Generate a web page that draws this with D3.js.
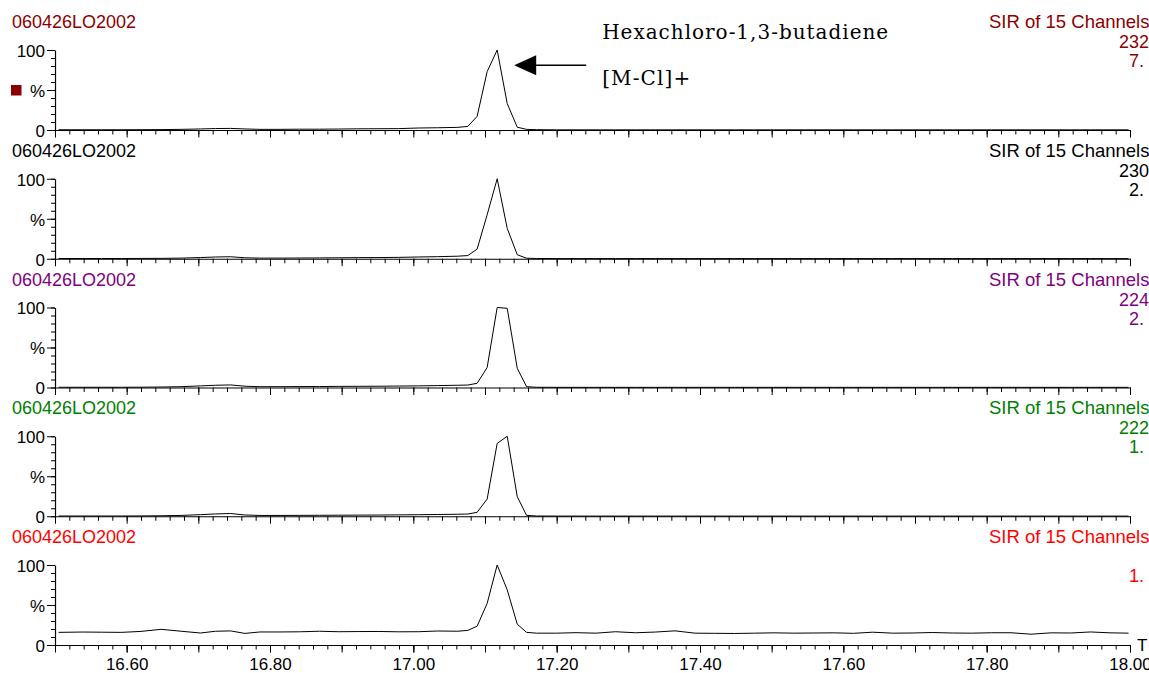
<!DOCTYPE html>
<html>
<head>
<meta charset="utf-8">
<script src="https://cdn.jsdelivr.net/npm/d3@7"></script>
<style>
  html, body { margin: 0; padding: 0; background: #fff; overflow: hidden; }
  svg { display: block; font-family: "Liberation Sans", Arial, sans-serif; }
</style>
</head>
<body>
<div id="chart"></div>
<script>
// retention times (min) of the plotted scans
const times = [
  16.505, 16.538, 16.565, 16.593, 16.620, 16.648, 16.676, 16.703, 16.724, 16.745,
  16.765, 16.786, 16.814, 16.841, 16.869, 16.896, 16.924, 16.952, 16.979, 17.007,
  17.034, 17.062, 17.076, 17.089, 17.103, 17.117, 17.131, 17.145, 17.158, 17.172,
  17.200, 17.227, 17.255, 17.282, 17.310, 17.338, 17.365, 17.393, 17.420, 17.448,
  17.476, 17.503, 17.531, 17.558, 17.586, 17.614, 17.641, 17.669, 17.696, 17.724,
  17.752, 17.779, 17.807, 17.834, 17.862, 17.890, 17.917, 17.945, 17.972, 17.998
];

// relative intensity (%) per channel
const trace232 = [
  0.3, 0.3, 0.3, 0.3, 0.4, 0.5, 0.8, 1.3, 1.8, 2.0,
  1.3, 0.8, 0.8, 1.0, 1.0, 1.2, 1.5, 1.6, 1.7, 2.5,
  2.8, 3.3, 4.5, 17, 73, 100, 33, 3.5, 0.8, 0.4,
  0.2, 0.2, 0.2, 0.2, 0.2, 0.2, 0.2, 0.2, 0.2, 0.2,
  0.2, 0.2, 0.2, 0.2, 0.2, 0.2, 0.2, 0.2, 0.2, 0.2,
  0.2, 0.2, 0.2, 0.2, 0.2, 0.2, 0.2, 0.2, 0.2, 0.2
];
const trace230 = [
  0.3, 0.3, 0.3, 0.3, 0.4, 0.5, 0.8, 1.5, 2.2, 2.5,
  1.2, 0.8, 0.8, 0.9, 1.0, 1.2, 1.4, 1.5, 1.7, 2.2,
  2.6, 3.2, 4.0, 12, 55, 100, 38, 5, 0.7, 0.3,
  0.2, 0.2, 0.2, 0.2, 0.2, 0.2, 0.2, 0.2, 0.2, 0.2,
  0.2, 0.2, 0.2, 0.2, 0.2, 0.2, 0.2, 0.2, 0.2, 0.2,
  0.2, 0.2, 0.2, 0.2, 0.2, 0.2, 0.2, 0.2, 0.2, 0.2
];
const trace224 = [
  0.3, 0.3, 0.3, 0.3, 0.4, 0.6, 1.0, 2.0, 2.8, 3.2,
  1.6, 1.0, 1.0, 1.2, 1.2, 1.4, 1.5, 1.6, 1.8, 2.0,
  2.4, 2.8, 3.1, 5.2, 25, 100, 99, 24, 1.0, 0.3,
  0.2, 0.2, 0.2, 0.2, 0.2, 0.2, 0.2, 0.2, 0.2, 0.2,
  0.2, 0.2, 0.2, 0.2, 0.2, 0.2, 0.2, 0.2, 0.2, 0.2,
  0.2, 0.2, 0.2, 0.2, 0.2, 0.2, 0.2, 0.2, 0.2, 0.2
];
const trace222 = [
  0.3, 0.3, 0.3, 0.3, 0.4, 0.6, 1.0, 2.0, 2.9, 3.4,
  1.6, 1.0, 1.0, 1.1, 1.2, 1.3, 1.4, 1.5, 1.7, 1.9,
  2.2, 2.5, 2.8, 4.9, 21.5, 91, 100, 24.5, 1.1, 0.3,
  0.2, 0.2, 0.2, 0.2, 0.2, 0.2, 0.2, 0.2, 0.2, 0.2,
  0.2, 0.2, 0.2, 0.2, 0.2, 0.2, 0.2, 0.2, 0.2, 0.2,
  0.2, 0.2, 0.2, 0.2, 0.2, 0.2, 0.2, 0.2, 0.2, 0.2
];
const traceTic = [
  15.8, 16.2, 16.0, 15.8, 17.0, 19.6, 17.2, 15.0, 17.2, 17.6,
  14.5, 16.3, 16.3, 16.5, 17.2, 16.6, 16.8, 16.9, 16.5, 16.6,
  17.5, 17.2, 18.3, 23.5, 52, 100, 69, 26, 15.8, 14.8,
  14.8, 15.4, 14.8, 16.6, 15.3, 16.2, 17.7, 14.8, 14.6, 14.4,
  14.8, 15.2, 14.8, 15.0, 15.2, 14.6, 16.0, 14.8, 15.0, 15.6,
  15.0, 14.8, 15.3, 15.3, 13.5, 15.2, 15.0, 16.3, 15.2, 14.8
];

const sampleNames = ["060426LO2002", "060426LO2002", "060426LO2002", "060426LO2002", "060426LO2002"];
const functionNames = ["SIR of 15 Channels", "SIR of 15 Channels", "SIR of 15 Channels", "SIR of 15 Channels", "SIR of 15 Channels"];
const channelMasses = ["232", "230", "224", "222", ""];
const channelScales = ["7.", "2.", "2.", "1.", "1."];
const xTickLabels = [16.60, 16.80, 17.00, 17.20, 17.40, 17.60, 17.80, 18.00];
const yTickValues = [0, 50, 100];
const yTickText = ["0", "%", "100"];
const compoundName = "Hexachloro-1,3-butadiene";
const ionName = "[M-Cl]+";
const peakTime = 17.117;

const traces = [trace232, trace230, trace224, trace222, traceTic];
const panelColors = ["#8b0000", "#000000", "#800080", "#008000", "#ff0000"];

const svgWidth = 1149;
const svgHeight = 673;
const firstTop = 50;
const panelStep = 128.75;
const panelHeight = 80;

const svg = d3.select("#chart").append("svg")
  .attr("width", svgWidth)
  .attr("height", svgHeight);

const x = d3.scaleLinear()
  .domain([16.5, 18.0])
  .range([55, 1130]);

const minorX = d3.range(0, 76).map(i => 16.5 + i * 0.02);
const majorX = d3.range(0, 16).map(i => 16.5 + i * 0.1);

function styleAxis(g) {
  g.attr("font-family", null).attr("font-size", null);
  g.selectAll("path.domain").attr("stroke", "#000").attr("stroke-width", 1.2);
  g.selectAll(".tick line").attr("stroke", "#000").attr("stroke-width", 1);
  g.selectAll(".tick text").attr("fill", "#000").style("font-size", "17px");
}

traces.forEach((values, i) => {
  const top = firstTop + i * panelStep;
  const bottom = top + panelHeight;
  const color = panelColors[i];
  const isLast = i === traces.length - 1;

  const y = d3.scaleLinear()
    .domain([0, 100])
    .range([bottom, top]);

  const g = svg.append("g");

  // x axis: minor, major, labels
  g.append("g")
    .attr("transform", "translate(0," + bottom + ")")
    .call(d3.axisBottom(x).tickValues(minorX).tickSize(4.5).tickSizeOuter(0).tickFormat(""))
    .call(styleAxis);

  g.append("g")
    .attr("transform", "translate(0," + bottom + ")")
    .call(d3.axisBottom(x).tickValues(majorX).tickSize(7.5).tickSizeOuter(0).tickFormat(""))
    .call(styleAxis)
    .call(a => a.select(".domain").remove());

  if (isLast) {
    g.append("g")
      .attr("transform", "translate(0," + bottom + ")")
      .call(d3.axisBottom(x).tickValues(xTickLabels).tickSize(7.5).tickPadding(5).tickFormat(d3.format(".2f")))
      .call(styleAxis)
      .call(a => a.select(".domain").remove());

    g.append("text")
      .attr("x", 1137)
      .attr("y", bottom + 6)
      .style("font-size", "17px")
      .attr("fill", "#000")
      .text("T");
  }

  // y axis
  g.append("g")
    .attr("transform", "translate(55,0)")
    .call(d3.axisLeft(y).tickValues(d3.range(0, 101, 10)).tickSize(4).tickSizeOuter(0).tickFormat(""))
    .call(styleAxis);

  g.append("g")
    .attr("transform", "translate(55,0)")
    .call(d3.axisLeft(y).tickValues(yTickValues).tickSize(8).tickPadding(2)
      .tickFormat(d => yTickText[yTickValues.indexOf(d)]))
    .call(styleAxis)
    .call(a => a.select(".domain").remove())
    .call(a => a.selectAll(".tick text").attr("dy", "0.38em"));

  // trace
  g.append("path")
    .datum(values)
    .attr("fill", "none")
    .attr("stroke", "#000")
    .attr("stroke-width", 1)
    .attr("stroke-linejoin", "round")
    .attr("d", d3.line()
      .x((d, j) => x(times[j]))
      .y(d => y(d)));

  // header texts
  g.append("text")
    .attr("x", 12)
    .attr("y", top - 22)
    .attr("fill", color)
    .style("font-size", "18px")
    .text(sampleNames[i]);

  g.append("text")
    .attr("x", 989)
    .attr("y", top - 22)
    .attr("fill", color)
    .style("font-size", "18.5px")
    .text(functionNames[i]);

  if (channelMasses[i]) {
    g.append("text")
      .attr("x", 1119)
      .attr("y", top - 2)
      .attr("fill", color)
      .style("font-size", "18px")
      .text(channelMasses[i]);
  }

  g.append("text")
    .attr("x", 1129)
    .attr("y", top + 17)
    .attr("fill", color)
    .style("font-size", "18px")
    .text(channelScales[i]);

  if (i === 0) {
    // legend swatch
    g.append("rect")
      .attr("x", 11)
      .attr("y", y(50) - 5)
      .attr("width", 10.5)
      .attr("height", 10.5)
      .attr("fill", color);

    // annotation
    const tipX = x(peakTime) + 17;
    const tipY = y(81);
    g.append("line")
      .attr("x1", tipX + 20)
      .attr("x2", tipX + 72)
      .attr("y1", tipY)
      .attr("y2", tipY)
      .attr("stroke", "#000")
      .attr("stroke-width", 1.6);
    g.append("path")
      .attr("d", `M${tipX},${tipY}L${tipX + 22},${tipY - 10}L${tipX + 22},${tipY + 10}Z`)
      .attr("fill", "#000");

    g.append("text")
      .attr("x", tipX + 88)
      .attr("y", top - 11)
      .attr("textLength", 286)
      .attr("lengthAdjust", "spacing")
      .style("font-family", "'DejaVu Serif', 'Liberation Serif', serif")
      .style("font-size", "20px")
      .attr("fill", "#000")
      .text(compoundName);

    g.append("text")
      .attr("x", tipX + 88)
      .attr("y", top + 35)
      .attr("textLength", 88)
      .attr("lengthAdjust", "spacing")
      .style("font-family", "'DejaVu Serif', 'Liberation Serif', serif")
      .style("font-size", "20px")
      .attr("fill", "#000")
      .text(ionName);
  }
});
</script>
</body>
</html>
